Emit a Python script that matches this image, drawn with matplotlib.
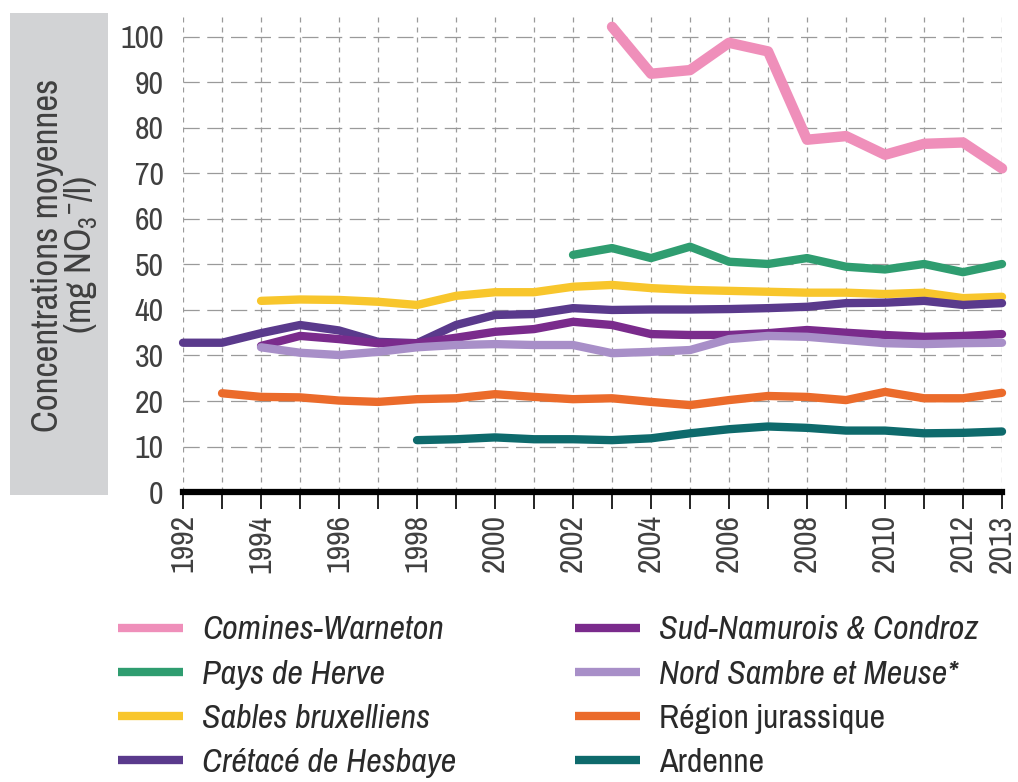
import matplotlib
matplotlib.use("Agg")
import matplotlib.pyplot as plt
import numpy as np
from matplotlib import font_manager
from matplotlib.patches import Rectangle

# Mean nitrate concentrations per groundwater body (mg NO3-/l)
YEARS = list(range(1992, 2014))

comines_start = 2003
comines = [102.2, 91.9, 92.7, 98.7, 96.8, 77.4, 78.2, 74.1, 76.5, 76.8, 71.1]

herve_start = 2002
herve = [52.1, 53.6, 51.4, 53.9, 50.6, 50.1, 51.4, 49.5, 48.9, 50.1, 48.3, 50.1]

sables_start = 1994
sables = [42.0, 42.3, 42.2, 41.8, 41.1, 43.1, 43.9, 43.9, 45.1, 45.5, 44.8,
          44.4, 44.2, 44.0, 43.8, 43.8, 43.5, 43.8, 42.6, 42.9]

cretace_start = 1992
cretace = [32.8, 32.8, 34.9, 36.7, 35.5, 33.0, 32.7, 36.7, 38.9, 39.1, 40.4,
           40.0, 40.1, 40.1, 40.2, 40.4, 40.7, 41.5, 41.6, 42.0, 41.1, 41.5]

sud_start = 1994
sud_namurois = [32.1, 34.3, 33.6, 32.7, 32.7, 33.9, 35.2, 35.8, 37.4, 36.7, 34.7,
                34.5, 34.5, 34.9, 35.6, 35.0, 34.5, 34.1, 34.3, 34.7]

nord_start = 1994
nord_sambre = [31.8, 30.6, 30.1, 30.8, 31.8, 32.3, 32.5, 32.3, 32.3, 30.5, 30.8,
               31.2, 33.6, 34.3, 34.1, 33.4, 32.7, 32.5, 32.7, 32.8]

jura_start = 1993
jurassique = [21.7, 20.9, 20.8, 20.1, 19.8, 20.4, 20.6, 21.5, 20.9, 20.4, 20.6,
              19.8, 19.1, 20.2, 21.1, 20.9, 20.2, 22.0, 20.6, 20.6, 21.8]

ardenne_start = 1998
ardenne = [11.4, 11.6, 12.0, 11.6, 11.6, 11.4, 11.8, 12.9, 13.8, 14.4, 14.1,
           13.5, 13.5, 12.9, 13.0, 13.3]

SERIES = [
    ("Comines-Warneton", comines_start, comines, "#ef8fba", True),
    ("Pays de Herve", herve_start, herve, "#2f9d70", True),
    ("Sables bruxelliens", sables_start, sables, "#f8c62c", True),
    ("Crétacé de Hesbaye", cretace_start, cretace, "#5a3a8c", True),
    ("Sud-Namurois & Condroz", sud_start, sud_namurois, "#7a2b8c", True),
    ("Nord Sambre et Meuse*", nord_start, nord_sambre, "#a88fc8", True),
    ("Région jurassique", jura_start, jurassique, "#eb6b2b", False),
    ("Ardenne", ardenne_start, ardenne, "#0e6a6c", False),
]

YEAR_LABELS = [str(y) if (y % 2 == 0 or y == 2013) else "" for y in YEARS]

# condensed grotesque, as close to Helvetica Condensed as we have
available = {f.name for f in font_manager.fontManager.ttflist}
FONT = "DejaVu Sans"
for cand in ["Archivo Narrow", "Roboto Condensed", "Liberation Sans Narrow"]:
    if cand in available:
        FONT = cand
        break
plt.rcParams["font.family"] = [FONT, "DejaVu Sans"]
plt.rcParams["mathtext.fontset"] = "custom"
plt.rcParams["mathtext.rm"] = FONT
plt.rcParams["mathtext.it"] = FONT

TXT = "#404040"

fig = plt.figure(figsize=(10.18, 7.82), dpi=100)
ax = fig.add_axes([0.1798, 0.3708, 0.8045, 0.61])

# grey box behind the y label
fig.add_artist(Rectangle((0.0098, 0.367), 0.0963, 0.616, transform=fig.transFigure,
                         facecolor="#d2d3d5", edgecolor="none", zorder=0))
fig.text(0.064, 0.674, "Concentrations moyennes\n(mg NO$_3$$^{-}$/l)", rotation=90,
         ha="center", va="center", multialignment="center", fontsize=26.5,
         color=TXT, linespacing=0.95)

handles = []
for name, start, values, color, italic in SERIES:
    x = np.arange(start, start + len(values))
    lw = 7.5 if name == "Comines-Warneton" else 6
    (ln,) = ax.plot(x, values, color=color, lw=lw, solid_capstyle="round",
                    solid_joinstyle="round", clip_on=False, zorder=3, label=name)
    handles.append(ln)

ax.axhline(0, color="black", lw=4.5, zorder=4, clip_on=False)

ax.set_xlim(1992, 2013)
ax.set_ylim(0, 104.8)
ax.set_xticks(YEARS)
ax.set_xticklabels(YEAR_LABELS, rotation=90, fontsize=23, color=TXT)
ax.set_yticks(np.arange(0, 101, 10))
ax.set_yticklabels([str(v) for v in range(0, 101, 10)], fontsize=23, color=TXT)
ax.tick_params(axis="x", direction="out", length=12, width=1.2, color="black", pad=4)
ax.tick_params(axis="y", length=0, pad=14)

for s in ax.spines.values():
    s.set_visible(False)

ax.grid(axis="x", color="#9a9a9a", lw=0.9, linestyle=(0, (4, 4)))
ax.grid(axis="y", color="#9a9a9a", lw=0.9, linestyle=(0, (13, 6)))
ax.set_axisbelow(True)

leg = fig.legend(handles=handles, ncol=2, loc="upper left", bbox_to_anchor=(0.116, 0.213),
                 frameon=False, fontsize=24.5, handlelength=1.9, handletextpad=0.56,
                 columnspacing=3.5, labelspacing=0.42, borderaxespad=0, borderpad=0)
for txt, (_, _, _, _, italic) in zip(leg.get_texts(), SERIES):
    txt.set_color("#2a2a2a")
    if italic:
        txt.set_style("italic")
for lh in leg.get_lines():
    lh.set_linewidth(6)
    lh.set_solid_capstyle("butt")

fig.savefig("out.png", dpi=100)
